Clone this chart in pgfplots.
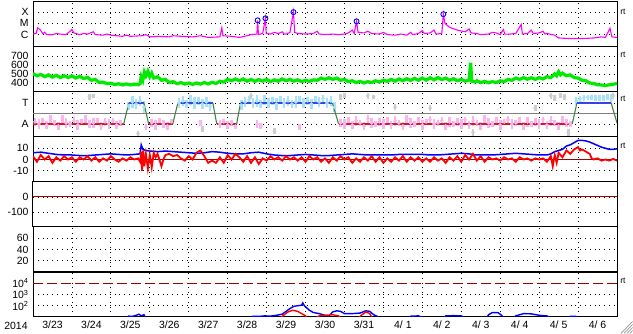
\documentclass[border=0pt]{standalone}
\usepackage{pgfplots}
\pgfplotsset{compat=1.18}
\usepackage{fontspec}
\setmainfont{Liberation Sans}
\definecolor{magC}{RGB}{255,0,255}
\definecolor{grnC}{RGB}{0,235,0}
\definecolor{lblue}{RGB}{170,225,250}
\definecolor{pinkC}{RGB}{250,180,240}
\definecolor{greyC}{RGB}{205,205,205}
\definecolor{midgrey}{RGB}{128,128,128}
\definecolor{tgreen}{RGB}{70,130,70}
\definecolor{blueL}{RGB}{50,70,230}
\definecolor{redL}{RGB}{200,30,30}
\definecolor{darkred}{RGB}{160,0,0}
\definecolor{gripC}{RGB}{150,150,150}
\pgfplotsset{
  panel/.style={
    width=584bp, height=45bp, scale only axis,
    xmin=0, xmax=15, xtick={1,...,14}, xticklabel=\empty,
    xmajorgrids, ymajorgrids,
    grid style={black, line width=0.8bp, dash pattern=on 0.8bp off 4bp},
    major tick length=0, minor tick length=0,
    axis line style={line width=1bp},
    tick label style={font=\fontsize{10.5}{12}\selectfont},
    yticklabel style={xshift=-1bp},
    /pgf/number format/assume math mode=true,
  },
  streak/.style={only marks, mark=*, mark size=0.2bp, #1, line width=2.6bp,
    error bars/.cd, y dir=both, y explicit, error mark=none,
    error bar style={#1, line width=2.6bp}},
}
\newcommand{\rt}[2]{\node[font=\fontsize{8.5}{9}\selectfont, anchor=center] at (623bp,#1bp) {#2};}
\begin{document}
\begin{tikzpicture}
\path[use as bounding box] (0,0) rectangle (633bp,334bp);

% Panel 1: X-ray flux
\begin{axis}[panel, at={(33bp,332bp)}, anchor=north west,
  ymin=-7.1, ymax=-3.1, ytick={-6,-5,-4}, yticklabels={C,M,X}]
\addplot[magC, line width=1.1bp] coordinates {
(0,-5.95)(0.08,-5.9)(0.12,-5.4)(0.18,-5.55)(0.25,-5.9)(0.3,-5.8)(0.35,-6.0)(0.5,-6.02)(0.6,-5.9)(0.7,-5.95)(0.85,-6.0)(0.95,-5.7)(1.0,-5.55)(1.05,-5.85)(1.2,-6.0)(1.3,-5.9)(1.4,-5.95)(1.55,-5.75)(1.6,-6.0)(1.8,-6.05)(1.9,-5.95)(2.0,-6.05)(2.3,-6.15)(2.4,-6.05)(2.5,-6.15)(2.8,-6.1)(2.9,-6.0)(3.0,-6.2)(3.2,-6.15)(3.5,-6.2)(3.6,-6.1)(3.8,-6.15)(4.1,-6.2)(4.3,-6.1)(4.5,-6.25)(4.8,-6.2)(4.85,-5.4)(4.88,-6.1)(5.1,-6.15)(5.3,-6.25)(5.5,-6.1)(5.6,-6.0)(5.75,-5.95)(5.77,-4.73)(5.79,-6.0)(5.9,-5.9)(5.97,-4.55)(5.99,-5.9)(6.1,-5.95)(6.2,-5.8)(6.3,-5.9)(6.4,-5.75)(6.45,-5.95)(6.5,-5.95)(6.6,-5.8)(6.69,-4.0)(6.72,-5.8)(6.8,-5.9)(7.0,-5.95)(7.2,-5.9)(7.3,-5.7)(7.35,-5.95)(7.5,-6.0)(7.7,-5.95)(7.85,-6.0)(8.0,-5.95)(8.1,-5.85)(8.2,-5.6)(8.25,-5.9)(8.31,-4.82)(8.35,-5.8)(8.5,-5.85)(8.6,-5.7)(8.7,-5.9)(8.9,-5.95)(9.0,-5.8)(9.1,-6.0)(9.3,-6.05)(9.45,-5.95)(9.6,-6.05)(9.7,-5.8)(9.75,-6.0)(9.9,-5.9)(10.0,-5.65)(10.05,-5.9)(10.2,-5.85)(10.3,-5.6)(10.35,-5.95)(10.5,-5.9)(10.54,-4.18)(10.58,-5.0)(10.7,-5.35)(10.9,-5.6)(11.1,-5.75)(11.2,-5.5)(11.25,-5.85)(11.4,-5.9)(11.5,-6.0)(11.7,-5.95)(11.8,-5.8)(11.9,-5.85)(12.0,-6.0)(12.08,-5.55)(12.12,-5.95)(12.25,-5.95)(12.4,-5.9)(12.54,-5.1)(12.57,-5.95)(12.7,-5.9)(12.8,-5.6)(12.85,-5.9)(13.0,-5.85)(13.1,-5.7)(13.15,-5.95)(13.2,-5.9)(13.4,-6.05)(13.5,-6.3)(13.8,-6.35)(14.1,-6.35)(14.4,-6.3)(14.6,-6.2)(14.7,-6.25)(14.82,-5.45)(14.87,-6.2)(15.0,-6.25)};
\addplot[only marks, mark=o, mark size=2.5bp, blue, line width=0.9bp] coordinates {
(5.77,-4.73)(5.97,-4.55)(6.69,-4.0)(8.31,-4.82)(10.54,-4.18)};
\end{axis}

% Panel 2: speed
\begin{axis}[panel, at={(33bp,287bp)}, anchor=north west,
  ymin=300, ymax=800, ytick={400,500,600,700}, yticklabels={400,500,600,700}]
\addplot[grnC, line width=3.2bp] coordinates {
(0.0,505)(0.1,480)(0.2,495)(0.3,470)(0.4,490)(0.5,465)(0.6,485)(0.7,460)(0.8,480)(0.9,462)(1.0,478)(1.1,455)(1.2,475)(1.3,450)(1.4,462)(1.5,430)(1.6,440)(1.7,405)(1.8,410)(1.9,392)(2.0,398)(2.1,382)(2.2,392)(2.3,378)(2.4,390)(2.5,378)(2.6,388)(2.7,380)(2.75,392)(2.78,470)(2.82,430)(2.86,520)(2.9,480)(2.95,530)(3.0,470)(3.05,510)(3.1,455)(3.2,470)(3.3,430)(3.4,440)(3.5,405)(3.6,415)(3.7,392)(3.8,405)(3.9,388)(4.0,400)(4.1,385)(4.2,400)(4.3,388)(4.4,405)(4.5,390)(4.6,408)(4.7,395)(4.8,420)(4.9,410)(5.0,440)(5.1,425)(5.2,445)(5.3,425)(5.4,445)(5.5,420)(5.6,440)(5.7,418)(5.8,438)(5.9,420)(6.0,440)(6.1,415)(6.2,435)(6.3,420)(6.4,445)(6.5,425)(6.6,440)(6.7,420)(6.8,435)(6.9,415)(7.0,430)(7.1,418)(7.2,435)(7.3,430)(7.4,455)(7.5,440)(7.6,458)(7.7,440)(7.8,455)(7.9,430)(8.0,440)(8.1,415)(8.2,425)(8.3,405)(8.4,418)(8.5,400)(8.6,415)(8.7,405)(8.8,425)(8.9,410)(9.0,432)(9.1,418)(9.2,440)(9.3,420)(9.4,445)(9.5,425)(9.6,448)(9.7,428)(9.8,452)(9.9,430)(10.0,455)(10.1,432)(10.2,458)(10.3,435)(10.4,460)(10.5,438)(10.6,455)(10.7,430)(10.8,448)(10.9,425)(11.0,440)(11.1,420)(11.2,432)(11.24,625)(11.27,420)(11.35,412)(11.4,425)(11.5,405)(11.6,418)(11.7,402)(11.8,415)(11.9,405)(12.0,425)(12.1,415)(12.2,440)(12.3,430)(12.4,455)(12.5,440)(12.6,460)(12.7,442)(12.8,458)(12.9,440)(13.0,460)(13.1,445)(13.2,470)(13.3,460)(13.4,500)(13.45,480)(13.5,525)(13.55,490)(13.6,510)(13.7,480)(13.8,490)(13.9,460)(14.0,455)(14.1,430)(14.2,425)(14.3,400)(14.4,395)(14.5,380)(14.6,378)(14.7,372)(14.8,380)(14.9,385)(15.0,395)};
\end{axis}

% Panel 3: sector T/A
\begin{axis}[panel, at={(33bp,242bp)}, anchor=north west,
  ymin=-2.24, ymax=2.05, ytick={-1,1}, yticklabels={A,T}]
\addplot[streak=greyC] coordinates {
(1.45,1.6) +- (0,0.3) (1.55,1.7) +- (0,0.2) (2.7,-1.9) +- (0,0.25) (4.35,-1.5) +- (0,0.3) (5.6,1.7) +- (0,0.3) (6.2,-1.7) +- (0,0.3) (7.9,1.6) +- (0,0.3) (8.0,1.75) +- (0,0.25) (8.6,1.7) +- (0,0.3) (8.75,1.6) +- (0,0.2) (9.3,0.6) +- (0,0.3) (10.2,0.5) +- (0,0.3) (11.3,-1.8) +- (0,0.3) (12.9,0.5) +- (0,0.3) (13.3,1.7) +- (0,0.3) (13.4,1.5) +- (0,0.3) (13.55,1.75) +- (0,0.25) (13.65,1.6) +- (0,0.3) (13.75,-1.8) +- (0,0.3) (14.9,1.7) +- (0,0.3)};
\addplot[streak=pinkC] coordinates {
(0.05,-0.8) +- (0,0.4) (0.15,-1.0) +- (0,0.5) (0.25,-0.7) +- (0,0.3) (0.35,-1.1) +- (0,0.4) (0.45,-0.6) +- (0,0.5) (0.55,-0.9) +- (0,0.3) (0.65,-1.2) +- (0,0.4) (0.75,-0.5) +- (0,0.4) (0.85,-0.9) +- (0,0.5) (0.95,-1.0) +- (0,0.3) (1.05,-0.7) +- (0,0.4) (1.15,-1.1) +- (0,0.5) (1.25,-0.8) +- (0,0.3) (1.35,-0.6) +- (0,0.5) (1.45,-1.0) +- (0,0.4) (1.55,-0.9) +- (0,0.5) (1.65,-0.7) +- (0,0.3) (1.75,-1.2) +- (0,0.4) (1.85,-0.8) +- (0,0.4) (1.95,-1.0) +- (0,0.5) (2.05,-0.7) +- (0,0.3) (2.15,-1.1) +- (0,0.4) (2.25,-0.9) +- (0,0.3)
(2.9,-1.3) +- (0,0.3) (3.05,-0.9) +- (0,0.4) (3.15,-1.1) +- (0,0.5) (3.25,-0.7) +- (0,0.3) (3.35,-1.0) +- (0,0.4) (3.45,-1.2) +- (0,0.4) (3.55,-0.8) +- (0,0.3)
(4.3,-0.9) +- (0,0.3) (4.8,-1.0) +- (0,0.4) (4.9,-0.8) +- (0,0.3) (5.0,-1.1) +- (0,0.4) (5.1,-0.9) +- (0,0.3) (5.2,-1.2) +- (0,0.3) (5.75,-1.0) +- (0,0.4) (5.85,-1.2) +- (0,0.3) (6.85,-1.3) +- (0,0.3)
(7.9,-0.9) +- (0,0.4) (8.0,-1.0) +- (0,0.5) (8.1,-0.6) +- (0,0.3) (8.2,-1.1) +- (0,0.4) (8.3,-0.7) +- (0,0.5) (8.4,-0.9) +- (0,0.3) (8.5,-1.2) +- (0,0.4) (8.6,-0.5) +- (0,0.4) (8.7,-0.9) +- (0,0.5) (8.8,-1.0) +- (0,0.3)
(8.9,-0.8) +- (0,0.4) (9.0,-1.0) +- (0,0.5) (9.1,-0.6) +- (0,0.3) (9.2,-1.1) +- (0,0.4) (9.3,-0.7) +- (0,0.5) (9.4,-0.9) +- (0,0.3) (9.5,-1.2) +- (0,0.4) (9.6,-0.5) +- (0,0.4) (9.7,-0.9) +- (0,0.5) (9.8,-1.0) +- (0,0.3)
(9.9,-0.7) +- (0,0.4) (10.0,-1.1) +- (0,0.5) (10.1,-0.8) +- (0,0.3) (10.2,-0.6) +- (0,0.4) (10.3,-1.0) +- (0,0.5) (10.4,-0.9) +- (0,0.3) (10.5,-0.7) +- (0,0.4) (10.6,-1.2) +- (0,0.4) (10.7,-0.8) +- (0,0.5) (10.8,-1.0) +- (0,0.3)
(10.9,-0.8) +- (0,0.4) (11.0,-1.0) +- (0,0.5) (11.1,-0.6) +- (0,0.3) (11.2,-1.1) +- (0,0.4) (11.3,-0.7) +- (0,0.5) (11.4,-0.9) +- (0,0.3) (11.5,-1.2) +- (0,0.4) (11.6,-0.5) +- (0,0.4) (11.7,-0.9) +- (0,0.5) (11.8,-1.0) +- (0,0.3)
(11.9,-0.7) +- (0,0.4) (12.0,-1.1) +- (0,0.5) (12.1,-0.8) +- (0,0.3) (12.2,-0.6) +- (0,0.4) (12.3,-1.0) +- (0,0.5) (12.4,-0.9) +- (0,0.3) (12.5,-0.7) +- (0,0.4) (12.6,-1.2) +- (0,0.4) (12.7,-0.8) +- (0,0.5) (12.8,-1.0) +- (0,0.3)
(12.9,-0.8) +- (0,0.4) (13.0,-1.0) +- (0,0.5) (13.1,-0.6) +- (0,0.3) (13.2,-1.1) +- (0,0.4) (13.3,-0.7) +- (0,0.5) (13.4,-0.9) +- (0,0.3) (13.5,-1.2) +- (0,0.4) (13.6,-0.6) +- (0,0.4) (13.7,-0.9) +- (0,0.4) (13.8,-1.0) +- (0,0.3)};
\addplot[streak=lblue] coordinates {
(2.45,0.7) +- (0,0.4) (2.55,1.1) +- (0,0.6) (2.65,0.9) +- (0,0.5) (2.75,1.2) +- (0,0.5) (2.85,0.6) +- (0,0.6)
(3.75,1.0) +- (0,0.5) (3.85,1.2) +- (0,0.5) (3.95,0.9) +- (0,0.4) (4.05,1.3) +- (0,0.5) (4.15,1.0) +- (0,0.6) (4.25,1.2) +- (0,0.4) (4.35,0.9) +- (0,0.5) (4.45,1.1) +- (0,0.5) (4.55,0.7) +- (0,0.5)
(5.35,0.8) +- (0,0.5) (5.45,1.1) +- (0,0.5) (5.55,1.3) +- (0,0.4) (5.65,1.0) +- (0,0.5) (5.75,1.2) +- (0,0.6) (5.85,0.9) +- (0,0.4) (5.95,1.3) +- (0,0.5) (6.05,1.0) +- (0,0.5) (6.15,1.2) +- (0,0.4) (6.25,0.9) +- (0,0.6) (6.35,1.3) +- (0,0.4) (6.45,1.0) +- (0,0.5) (6.55,1.2) +- (0,0.5) (6.65,0.9) +- (0,0.4) (6.75,1.1) +- (0,0.6) (6.85,1.3) +- (0,0.4) (6.95,1.0) +- (0,0.5) (7.05,1.2) +- (0,0.4) (7.15,0.9) +- (0,0.5) (7.25,1.3) +- (0,0.4) (7.35,1.1) +- (0,0.5) (7.45,1.4) +- (0,0.4) (7.55,1.0) +- (0,0.5) (7.65,1.2) +- (0,0.5) (7.75,0.6) +- (0,0.5)
(13.95,1.2) +- (0,0.4) (14.05,1.4) +- (0,0.3) (14.15,1.5) +- (0,0.3) (14.25,1.55) +- (0,0.25) (14.35,1.55) +- (0,0.25) (14.45,1.5) +- (0,0.3) (14.55,1.45) +- (0,0.3) (14.65,1.5) +- (0,0.3) (14.75,1.6) +- (0,0.3) (14.85,1.4) +- (0,0.5)};
\addplot[midgrey, line width=1bp] coordinates {(0,0)(15,0)};
\addplot[redL, line width=1.2bp] coordinates {(0,-1)(2.33,-1)};
\addplot[redL, line width=1.2bp] coordinates {(2.97,-1)(3.59,-1)};
\addplot[redL, line width=1.2bp] coordinates {(4.72,-1)(5.23,-1)};
\addplot[redL, line width=1.2bp] coordinates {(7.85,-1)(13.85,-1)};
\addplot[blueL, line width=1.2bp] coordinates {(2.46,1)(2.85,1)};
\addplot[blueL, line width=1.2bp] coordinates {(3.72,1)(4.62,1)};
\addplot[blueL, line width=1.2bp] coordinates {(5.33,1)(7.69,1)};
\addplot[blueL, line width=1.2bp] coordinates {(13.97,1)(14.85,1)};
\addplot[tgreen, line width=1.1bp] coordinates {(2.33,-1)(2.46,1)};
\addplot[tgreen, line width=1.1bp] coordinates {(2.85,1)(2.97,-1)};
\addplot[tgreen, line width=1.1bp] coordinates {(3.59,-1)(3.72,1)};
\addplot[tgreen, line width=1.1bp] coordinates {(4.62,1)(4.72,-1)};
\addplot[tgreen, line width=1.1bp] coordinates {(5.23,-1)(5.33,1)};
\addplot[tgreen, line width=1.1bp] coordinates {(7.69,1)(7.85,-1)};
\addplot[tgreen, line width=1.1bp] coordinates {(13.85,-1)(13.97,1)};
\addplot[tgreen, line width=1.1bp] coordinates {(14.85,1)(15,-0.9)};
\end{axis}

% Panel 4: IMF
\begin{axis}[panel, at={(33bp,197bp)}, anchor=north west,
  ymin=-20, ymax=20, ytick={-10,0,10}, yticklabels={-10,0,10}]
\addplot[darkred, line width=1bp] coordinates {(0,0)(15,0)};
\addplot[blue, line width=1.5bp] coordinates {
(0,6)(0.2,6.5)(0.4,5.5)(0.6,4.5)(0.8,4)(1.0,4)(1.2,3.5)(1.4,3.5)(1.6,4)(1.8,4.5)(2.0,5)(2.2,4.5)(2.4,4)(2.6,4.5)(2.75,5)(2.78,13)(2.82,9)(2.9,8)(3.0,7.5)(3.2,7)(3.4,7.5)(3.6,7)(3.8,6.5)(4.0,6)(4.2,5.5)(4.4,6)(4.6,7)(4.8,6.5)(5.0,5.5)(5.2,5)(5.4,5)(5.6,6)(5.8,6.5)(6.0,5)(6.2,4)(6.4,3.5)(6.6,3.5)(6.8,4)(7.0,4.5)(7.2,4)(7.4,3.5)(7.6,3.5)(7.8,4)(8.0,4.5)(8.2,5)(8.4,4.5)(8.6,4)(8.8,4)(9.0,4)(9.2,4)(9.4,4.5)(9.6,4.5)(9.8,4.5)(10.0,4.5)(10.2,4)(10.4,4)(10.6,4.5)(10.8,5)(11.0,5.5)(11.2,5)(11.4,4)(11.6,4)(11.8,4)(12.0,4.5)(12.2,5)(12.4,5.5)(12.6,5)(12.8,4.5)(13.0,4)(13.2,4)(13.3,5)(13.4,7)(13.5,8)(13.6,9)(13.7,12)(13.8,13)(13.9,15)(14.0,17)(14.1,17)(14.2,16.5)(14.3,15.5)(14.4,14)(14.5,12.5)(14.6,11)(14.7,10)(14.8,9)(14.9,9)(15,9.5)};
\addplot[red, line width=1.8bp] coordinates {
(0.0,3)(0.1,-2)(0.2,4)(0.3,0)(0.4,3)(0.5,-3)(0.6,2)(0.7,-1)(0.8,3)(0.9,0)(1.0,2)(1.1,-2)(1.2,2)(1.3,0)(1.4,3)(1.5,-1)(1.6,2)(1.7,-2)(1.8,1)(1.9,-1)(2.0,3)(2.1,0)(2.2,-2)(2.3,1)(2.4,-1)(2.5,2)(2.6,0)(2.7,1)(2.75,-2)(2.78,7)(2.8,-10)(2.83,8)(2.86,-6)(2.9,5)(2.95,-8)(3.0,4)(3.05,-7)(3.1,6)(3.15,2)(3.2,5)(3.3,-6)(3.35,0)(3.4,4)(3.5,5)(3.6,3)(3.7,4)(3.8,1)(3.9,-1)(4.0,3)(4.1,0)(4.2,6)(4.3,8)(4.4,3)(4.5,-3)(4.6,-1)(4.7,-3)(4.8,2)(4.9,-3)(5.0,4)(5.1,0)(5.2,5)(5.3,2)(5.4,-2)(5.5,3)(5.6,-3)(5.7,2)(5.8,-4)(5.9,1)(6.0,-1)(6.1,3)(6.2,0)(6.3,2)(6.4,-1)(6.5,3)(6.6,0)(6.7,2)(6.8,-1)(6.9,2)(7.0,-2)(7.1,3)(7.2,0)(7.3,2)(7.4,-2)(7.5,1)(7.6,-3)(7.7,2)(7.8,-1)(7.9,3)(8.0,0)(8.1,2)(8.2,-3)(8.3,1)(8.4,-2)(8.5,2)(8.6,-1)(8.7,3)(8.8,-2)(8.9,2)(9.0,-3)(9.1,1)(9.2,-2)(9.3,2)(9.4,-1)(9.5,3)(9.6,-2)(9.7,2)(9.8,-1)(9.9,2)(10.0,-2)(10.1,1)(10.2,-2)(10.3,2)(10.4,-1)(10.5,1)(10.6,-3)(10.7,2)(10.8,-1)(10.9,3)(11.0,-2)(11.1,4)(11.2,0)(11.3,5)(11.4,-1)(11.5,3)(11.6,-2)(11.7,2)(11.8,0)(11.9,1)(12.0,-1)(12.1,2)(12.2,0)(12.3,1)(12.4,-2)(12.5,2)(12.6,0)(12.7,1)(12.8,-1)(12.9,1)(13.0,0)(13.1,1)(13.2,-2)(13.3,3)(13.35,-6)(13.4,4)(13.45,-3)(13.5,6)(13.6,2)(13.7,8)(13.8,5)(13.9,9)(14.0,11)(14.05,8)(14.1,9)(14.2,7)(14.3,5)(14.35,1)(14.4,0)(14.5,1)(14.6,-1)(14.7,0)(14.8,-1)(14.9,0.5)(15.0,-1)};
\end{axis}

% Panel 5
\begin{axis}[panel, at={(33bp,152bp)}, anchor=north west,
  ymin=-200, ymax=100, ytick={-100,0}, yticklabels={-100,0}]
\addplot[darkred, line width=1bp] coordinates {(0,0)(15,0)};
\end{axis}

% Panel 6
\begin{axis}[panel, at={(33bp,107bp)}, anchor=north west,
  ymin=0, ymax=80, ytick={20,40,60}, yticklabels={20,40,60}]
\end{axis}

% Panel 7: proton flux
\begin{axis}[panel, at={(33bp,62bp)}, anchor=north west,
  ymin=1, ymax=5, ytick={2,3}, yticklabels={},
  extra y ticks={2,3,4}, extra y tick labels={10\textsuperscript{2},10\textsuperscript{3},10\textsuperscript{4}},
  extra y tick style={grid=none},
  extra x ticks={0.5,1.5,...,14.5},
  extra x tick labels={3/23,3/24,3/25,3/26,3/27,3/28,3/29,3/30,3/31,4/ 1,4/ 2,4/ 3,4/ 4,4/ 5,4/ 6},
  extra x tick style={grid=none}]
\addplot[darkred, line width=1bp, dash pattern=on 10bp off 4bp] coordinates {(0,4)(15,4)};
\addplot[blue, line width=1.4bp] coordinates {(2.40,0.9)(2.45,1.08)(2.55,1.05)(2.65,1.15)(2.72,1.25)(2.78,1.1)(2.85,1.2)(2.9,0.9)};
\addplot[blue, line width=1.4bp] coordinates {(5.6,0.9)(5.65,1.07)(5.8,1.05)(5.95,1.1)(6.1,1.08)(6.25,1.15)(6.4,1.25)(6.5,1.5)(6.6,1.75)(6.7,1.95)(6.8,2.0)(6.9,2.05)(6.93,2.25)(6.97,2.0)(7.1,1.6)(7.2,1.4)(7.35,1.3)(7.5,1.15)(7.6,1.1)(7.7,1.45)(7.8,1.55)(7.9,1.5)(8.0,1.3)(8.2,1.3)(8.4,1.35)(8.55,1.55)(8.65,1.5)(8.75,1.2)(8.85,1.05)(8.9,0.9)};
\addplot[blue, line width=1.4bp] coordinates {(9.65,0.9)(9.7,1.07)(9.9,1.1)(10.05,0.9)};
\addplot[blue, line width=1.4bp] coordinates {(10.55,0.9)(10.6,1.1)(10.8,1.12)(11.0,1.1)(11.1,0.9)};
\addplot[blue, line width=1.4bp] coordinates {(11.65,0.9)(11.7,1.2)(11.8,1.4)(11.95,1.38)(12.05,1.1)(12.1,0.9)};
\addplot[blue, line width=1.4bp] coordinates {(12.35,0.9)(12.4,1.1)(12.6,1.3)(12.8,1.28)(13.0,1.15)(13.2,1.1)(13.3,0.9)};
\addplot[blue, line width=1.4bp] coordinates {(13.75,0.9)(13.8,1.05)(13.95,1.05)(14.0,0.9)};
\addplot[red, line width=1.4bp] coordinates {(6.35,0.9)(6.45,1.2)(6.55,1.45)(6.67,1.6)(6.8,1.5)(6.9,1.3)(7.0,1.1)(7.05,0.9)};
\addplot[red, line width=1.4bp] coordinates {(7.25,0.9)(7.35,1.1)(7.5,1.15)(7.7,1.2)(7.85,1.1)(7.9,0.9)};
\addplot[red, line width=1.4bp] coordinates {(8.35,0.9)(8.45,1.2)(8.55,1.45)(8.65,1.3)(8.72,0.9)};
\end{axis}

\node[font=\fontsize{10.5}{12}\selectfont] at (16bp,8.5bp) {2014};
\rt{322}{rt}
\rt{279}{rt}
\rt{235}{rt}
\rt{188}{rt}
\rt{53}{rt}
\foreach \d in {0,3,6,9} {
  \draw[gripC, line width=0.7bp] (633bp-\d bp-3bp,0.5bp) -- (632.5bp,\d bp+3.5bp);
}
\end{tikzpicture}
\end{document}
